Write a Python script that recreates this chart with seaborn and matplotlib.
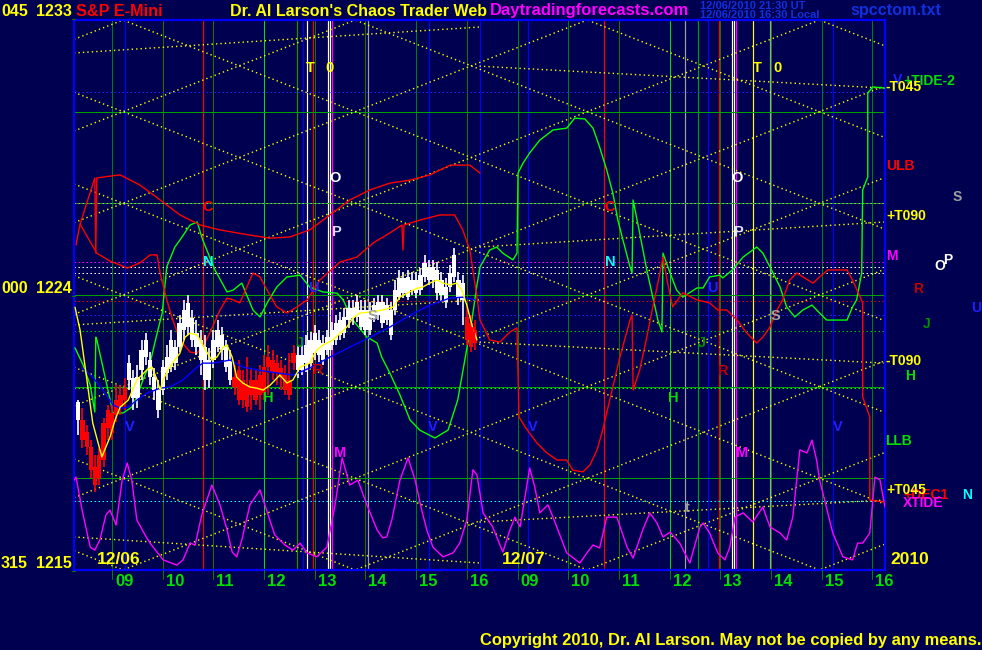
import numpy as np
import pandas as pd
import matplotlib
matplotlib.use("Agg")
import matplotlib.pyplot as plt
import seaborn as sns

sns.set_theme(style="dark")
FONT = ['Liberation Sans', 'DejaVu Sans']
plt.rcParams['font.family'] = FONT
plt.rcParams['font.weight'] = 'bold'

# ---------------- data ----------------
# x axis: session hours (0 = 08:15 of 12/06, 8 = 08:15 of 12/07)
hour_labels = ['09', '10', '11', '12', '13', '14', '15', '16']
day_labels = ['12/06', '12/07']
price_min, price_max = 1215, 1233
left_labels = [('045', '1233'), ('000', '1224'), ('315', '1215')]

# 5-minute candles of 12/06 (minutes after 08:15)
candle_minutes = list(range(5, 480, 5))
c_open = [1219.91, 1219.91, 1219.51, 1219.02, 1218.37, 1218.76, 1219.81, 1220.24, 1220.14, 1220.56,
          1220.72, 1220.95, 1221.22, 1220.62, 1220.62, 1221.54, 1221.97, 1221.31, 1220.89, 1220.24,
          1220.89, 1221.44, 1221.64, 1221.77, 1222.29, 1222.85, 1222.95, 1222.52, 1222.29, 1221.87,
          1221.22, 1221.22, 1221.87, 1222.29, 1222.19, 1221.64, 1221.22, 1221.31, 1221.54, 1221.22,
          1221.05, 1221.22, 1221.22, 1221.38, 1221.64, 1221.97, 1221.87, 1221.77, 1221.61, 1221.38,
          1221.22, 1222.10, 1221.54, 1221.54, 1221.77, 1221.77, 1222.10, 1222.03, 1221.87, 1222.20,
          1222.36, 1222.52, 1222.69, 1222.75, 1223.17, 1223.24, 1223.27, 1222.95, 1222.85, 1222.85,
          1223.24, 1223.34, 1223.08, 1223.17, 1222.69, 1223.50, 1223.93, 1224.06, 1223.93, 1224.16,
          1224.06, 1224.16, 1224.58, 1224.49, 1224.49, 1224.06, 1223.99, 1223.77, 1224.26, 1224.58,
          1223.93, 1223.83, 1223.27, 1223.08, 1222.85]
c_close = [1220.49, 1219.25, 1219.02, 1218.27, 1217.78, 1218.01, 1218.60, 1219.64, 1219.48, 1220.07,
           1220.33, 1220.56, 1221.77, 1221.28, 1221.31, 1222.19, 1222.52, 1221.87, 1221.31, 1220.89,
           1221.64, 1221.97, 1222.52, 1222.29, 1223.08, 1223.50, 1223.73, 1223.24, 1222.75, 1222.52,
           1222.29, 1221.87, 1222.52, 1222.85, 1222.68, 1222.29, 1221.87, 1220.99, 1220.56, 1220.56,
           1220.33, 1220.72, 1220.56, 1220.72, 1220.79, 1221.64, 1221.48, 1221.44, 1221.28, 1220.89,
           1220.72, 1221.77, 1222.03, 1222.03, 1222.36, 1222.52, 1222.75, 1222.52, 1222.42, 1222.62,
           1222.85, 1223.08, 1223.17, 1223.27, 1223.57, 1223.57, 1223.77, 1223.50, 1223.50, 1223.50,
           1223.67, 1223.77, 1223.77, 1223.67, 1223.50, 1224.16, 1224.55, 1224.55, 1224.58, 1224.49,
           1224.49, 1224.65, 1225.04, 1224.91, 1224.91, 1224.81, 1224.49, 1224.26, 1224.72, 1225.31,
           1224.49, 1224.39, 1222.52, 1222.29, 1222.42]
c_high = [1220.56, 1220.30, 1219.75, 1219.25, 1218.76, 1218.99, 1219.97, 1220.40, 1220.40, 1221.05,
          1221.05, 1221.28, 1222.03, 1221.54, 1221.70, 1222.52, 1222.75, 1222.13, 1221.61, 1221.22,
          1221.87, 1222.36, 1222.85, 1222.52, 1223.34, 1223.83, 1223.99, 1223.50, 1223.17, 1222.85,
          1222.68, 1222.26, 1222.85, 1223.17, 1222.95, 1222.52, 1222.19, 1221.70, 1221.87, 1221.54,
          1221.97, 1221.61, 1221.54, 1221.70, 1222.03, 1222.36, 1222.19, 1222.03, 1221.87, 1221.70,
          1222.10, 1222.36, 1222.36, 1222.36, 1222.69, 1222.78, 1223.01, 1222.85, 1222.69, 1222.85,
          1223.11, 1223.34, 1223.44, 1223.57, 1223.83, 1223.83, 1223.99, 1223.83, 1223.83, 1223.77,
          1223.90, 1223.99, 1223.99, 1223.90, 1223.77, 1224.49, 1224.81, 1224.75, 1224.81, 1224.75,
          1224.75, 1224.88, 1225.31, 1225.14, 1225.14, 1225.08, 1224.75, 1224.55, 1224.98, 1225.54,
          1224.75, 1224.65, 1223.67, 1223.34, 1223.17]
c_low = [1219.42, 1219.00, 1218.76, 1218.01, 1217.55, 1217.78, 1218.37, 1219.25, 1219.25, 1219.84,
         1220.07, 1220.24, 1220.89, 1220.24, 1220.30, 1221.22, 1221.70, 1221.05, 1220.56, 1219.97,
         1220.72, 1221.22, 1221.48, 1221.54, 1222.13, 1222.52, 1222.69, 1222.29, 1222.03, 1221.38,
         1220.89, 1220.95, 1221.61, 1222.13, 1221.87, 1221.48, 1221.05, 1220.72, 1220.40, 1220.30,
         1220.17, 1220.24, 1220.40, 1220.24, 1220.56, 1220.72, 1221.22, 1221.05, 1220.89, 1220.72,
         1220.56, 1221.54, 1221.28, 1221.38, 1221.48, 1221.61, 1221.87, 1221.80, 1221.71, 1222.03,
         1222.20, 1222.36, 1222.52, 1222.59, 1222.92, 1223.01, 1223.11, 1222.85, 1222.69, 1222.69,
         1223.11, 1223.17, 1222.92, 1223.01, 1222.52, 1223.34, 1223.83, 1223.90, 1223.83, 1223.99,
         1223.90, 1223.99, 1224.42, 1224.32, 1224.22, 1223.83, 1223.77, 1223.57, 1224.09, 1224.42,
         1223.67, 1223.01, 1222.36, 1222.13, 1222.20]

# moving averages of price (session hours, price)
fast_t = [0.02, 0.12, 0.22, 0.37, 0.55, 0.71, 0.81, 0.91, 1.07, 1.24, 1.44, 1.54, 1.64, 1.70, 1.76, 1.85,
          1.99, 2.09, 2.19, 2.29, 2.43, 2.52, 2.62, 2.72, 2.82, 2.94, 3.02, 3.12, 3.21, 3.33, 3.47, 3.61,
          3.73, 3.87, 4.06, 4.20, 4.32, 4.46, 4.65, 4.79, 4.91, 5.11, 5.25, 5.38, 5.50, 5.64, 5.84, 6.09,
          6.29, 6.43, 6.57, 6.77, 6.88, 7.02, 7.16, 7.28, 7.42, 7.55, 7.65, 7.75, 7.85, 7.95]
fast_p = [1223.60, 1222.85, 1221.64, 1219.81, 1218.70, 1219.35, 1219.91, 1220.33, 1220.56, 1221.22,
          1221.55, 1221.64, 1221.22, 1220.89, 1221.22, 1221.55, 1221.87, 1222.10, 1222.62, 1222.75,
          1222.69, 1222.43, 1222.13, 1221.87, 1221.97, 1222.29, 1222.36, 1221.97, 1221.31, 1221.12,
          1220.99, 1220.95, 1220.89, 1221.05, 1221.38, 1221.12, 1221.22, 1221.64, 1221.77, 1222.20,
          1222.36, 1222.53, 1222.75, 1222.95, 1223.24, 1223.41, 1223.44, 1223.51, 1223.60, 1223.93,
          1224.06, 1224.22, 1224.26, 1224.39, 1224.49, 1224.39, 1224.33, 1224.39, 1224.16, 1223.67,
          1223.02, 1222.53]
slow_t = [0.16, 0.37, 0.57, 0.77, 0.91, 1.07, 1.24, 1.44, 1.70, 1.89, 2.15, 2.43, 2.54, 2.74, 3.08,
          3.33, 3.61, 3.87, 4.32, 4.65, 5.05, 5.44, 5.84, 6.23, 6.63, 7.02, 7.42, 7.67, 7.91]
slow_p = [1221.61, 1221.31, 1220.89, 1220.40, 1220.30, 1220.33, 1220.56, 1220.79, 1220.95, 1220.99,
          1221.22, 1221.64, 1221.77, 1221.77, 1221.87, 1221.64, 1221.55, 1221.48, 1221.38, 1221.61,
          1221.97, 1222.29, 1222.62, 1222.95, 1223.34, 1223.67, 1223.90, 1223.93, 1223.84]

# forecast curves (session hours, price)
green_t = [0.02, 0.18, 0.32, 0.41, 0.43, 0.45, 0.57, 0.67, 0.77, 0.97, 1.14, 1.24, 1.36, 1.50, 1.64,
           1.74, 1.83, 1.99, 2.09, 2.29, 2.43, 2.54, 2.78, 3.02, 3.14, 3.31, 3.53, 3.67, 3.81, 4.00,
           4.20, 4.46, 4.65, 4.91, 5.19, 5.31, 5.50, 5.78, 5.98, 6.07, 6.23, 6.43, 6.63, 6.82, 7.12,
           7.38, 7.57, 7.71, 7.85, 7.95,
           8.01, 8.20, 8.34, 8.46, 8.66, 8.74, 8.76, 8.86, 8.99, 9.19, 9.45, 9.72, 9.88, 10.08, 10.24,
           10.37, 10.51, 10.63, 10.73, 10.83, 10.97, 11.01, 11.03, 11.16, 11.30, 11.40, 11.52, 11.60,
           11.62, 11.76, 11.89, 12.01, 12.29, 12.41, 12.54, 12.74, 12.80, 12.99, 13.20, 13.47, 13.59,
           13.73, 13.93, 14.06, 14.22, 14.38, 14.56, 14.71, 14.85, 15.25, 15.36, 15.44, 15.54, 15.56,
           15.66, 15.66, 15.76, 16.00]
green_p = [1222.27, 1221.71, 1221.05, 1220.17, 1222.62, 1222.53, 1221.64, 1220.89, 1220.14, 1220.14,
           1220.33, 1220.66, 1221.22, 1221.77, 1222.75, 1223.41, 1224.92, 1225.57, 1225.80, 1226.29,
           1226.39, 1225.80, 1224.82, 1224.10, 1224.16, 1224.39, 1223.51, 1223.28, 1223.74, 1224.26,
           1224.59, 1224.65, 1224.26, 1224.10, 1224.06, 1223.84, 1223.18, 1222.62, 1222.43, 1221.97,
           1221.45, 1220.73, 1219.91, 1219.58, 1219.32, 1219.58, 1220.56, 1221.87, 1223.18, 1224.33,
           1224.92, 1225.47, 1225.57, 1225.37, 1225.15, 1225.37, 1227.99, 1228.32, 1228.65, 1229.07,
           1229.40, 1229.46, 1229.79, 1229.76, 1229.46, 1228.84, 1228.09, 1227.34, 1226.45, 1225.80,
           1224.92, 1224.72, 1227.11, 1226.03, 1224.82, 1224.07, 1223.18, 1222.79, 1225.37, 1224.72,
           1224.16, 1223.93, 1224.23, 1224.23, 1224.59, 1224.65, 1224.56, 1224.82, 1225.24, 1225.57,
           1225.37, 1224.92, 1224.26, 1223.61, 1223.28, 1223.51, 1223.67, 1223.41, 1223.18, 1223.18,
           1223.61, 1223.84, 1224.72, 1227.44, 1227.86, 1230.61, 1230.81, 1230.77]

red_upper_t = [0.04, 0.12, 0.41, 0.43, 0.45, 0.71, 0.91, 1.30, 1.70, 2.09, 2.49, 2.88, 3.47, 3.87,
               4.26, 4.65, 5.05, 5.44, 5.84, 6.23, 6.63, 7.02, 7.42, 7.81, 8.01]
red_upper_p = [1225.64, 1226.32, 1227.83, 1225.37, 1227.83, 1227.89, 1227.93, 1227.60, 1227.11,
               1226.62, 1226.29, 1226.13, 1225.96, 1225.86, 1225.90, 1226.13, 1226.62, 1227.11,
               1227.44, 1227.66, 1227.76, 1227.93, 1228.25, 1228.25, 1227.99]
red_t = [0.12, 0.45, 0.71, 0.91, 1.05, 1.30, 1.50, 1.64, 1.70, 1.83, 1.95, 2.09, 2.29, 2.43, 2.54,
         2.68, 2.88, 3.02, 3.14, 3.27, 3.41, 3.53, 3.67, 3.81, 4.00, 4.20, 4.40, 4.60, 4.85, 5.25,
         5.58, 5.90, 6.23, 6.47, 6.49, 6.51, 6.82, 7.22, 7.51, 7.67, 7.81, 7.95, 8.01,
         8.20, 8.40, 8.60, 8.74, 8.78, 8.90, 9.13, 9.33, 9.53, 9.72, 9.84, 10.04, 10.18, 10.32,
         10.43, 10.63, 10.77, 10.97, 11.01, 11.03, 11.16, 11.30, 11.42, 11.56, 11.62, 11.70, 11.81,
         12.01, 12.29, 12.54, 12.70, 12.88, 13.08, 13.27, 13.47, 13.59, 13.73, 13.87, 13.98, 14.12,
         14.26, 14.38, 14.58, 14.71, 14.87, 15.25, 15.36, 15.56, 15.56, 15.70, 15.70, 16.00]
red_p = [1226.32, 1225.37, 1225.11, 1224.98, 1224.88, 1225.05, 1225.31, 1225.31, 1224.72, 1223.84,
         1223.18, 1222.53, 1222.13, 1222.10, 1222.30, 1222.76, 1223.51, 1223.90, 1223.84, 1223.74,
         1224.26, 1224.72, 1224.59, 1224.16, 1223.61, 1223.41, 1223.61, 1223.84, 1224.49, 1225.08,
         1225.24, 1225.70, 1226.03, 1226.29, 1225.47, 1226.29, 1226.45, 1226.62, 1226.62, 1226.13,
         1225.47, 1223.93, 1223.18,
         1222.53, 1222.46, 1222.79, 1222.92, 1220.01, 1219.68, 1219.16, 1218.83, 1218.60, 1218.60,
         1218.27, 1218.21, 1218.44, 1218.93, 1219.58, 1220.99, 1221.97, 1223.18, 1223.35, 1220.89,
         1221.54, 1222.62, 1223.61, 1224.72, 1225.24, 1224.49, 1223.61, 1224.07, 1223.84, 1223.74,
         1223.51, 1223.51, 1223.18, 1222.76, 1222.43, 1222.62, 1222.95, 1223.51, 1223.84, 1224.49,
         1224.72, 1224.59, 1224.39, 1224.59, 1224.82, 1224.82, 1224.49, 1223.74, 1220.66, 1220.01,
         1217.29, 1217.22]

magenta_t = [0.00, 0.04, 0.16, 0.32, 0.41, 0.51, 0.63, 0.71, 0.83, 0.95, 1.05, 1.14, 1.24, 1.40, 1.50,
             1.76, 2.03, 2.15, 2.29, 2.39, 2.52, 2.72, 2.88, 3.02, 3.12, 3.21, 3.31, 3.47, 3.67, 3.83,
             3.96, 4.16, 4.32, 4.46, 4.60, 4.79, 4.99, 5.15, 5.29, 5.44, 5.60, 5.78, 5.98, 6.09, 6.17,
             6.27, 6.43, 6.59, 6.73, 6.86, 6.96, 7.08, 7.28, 7.48, 7.61, 7.75, 7.87, 7.95,
             8.07, 8.26, 8.46, 8.60, 8.70, 8.80, 8.93, 8.99, 9.09, 9.19, 9.35, 9.45, 9.72, 9.98, 10.12,
             10.24, 10.37, 10.51, 10.71, 10.91, 11.03, 11.22, 11.36, 11.50, 11.62, 11.76, 11.95, 12.15,
             12.35, 12.41, 12.54, 12.70, 12.84, 12.94, 13.04, 13.20, 13.39, 13.59, 13.73, 13.93, 14.06,
             14.18, 14.32, 14.46, 14.56, 14.65, 14.71, 14.97, 15.17, 15.36, 15.46, 15.56, 15.70, 15.80,
             15.90, 16.00]
magenta_p = [1217.94, 1218.04, 1216.96, 1215.75, 1215.65, 1215.98, 1216.80, 1216.96, 1216.47, 1217.94,
             1218.50, 1217.94, 1216.64, 1216.15, 1215.88, 1215.33, 1215.16, 1215.33, 1215.88, 1215.82,
             1216.80, 1217.78, 1217.13, 1216.31, 1215.59, 1215.43, 1215.98, 1217.13, 1217.62, 1216.80,
             1216.15, 1215.82, 1215.65, 1215.88, 1215.56, 1215.43, 1215.75, 1217.13, 1218.67, 1217.78,
             1217.94, 1217.13, 1216.31, 1216.05, 1216.08, 1216.64, 1217.94, 1218.67, 1217.94, 1216.96,
             1216.31, 1215.75, 1215.43, 1215.56, 1215.88, 1216.64, 1218.28, 1218.11,
             1216.87, 1216.41, 1215.59, 1216.31, 1216.73, 1216.41, 1217.72, 1218.34, 1217.72, 1216.87,
             1217.13, 1216.73, 1215.56, 1215.23, 1215.56, 1215.82, 1215.72, 1216.73, 1216.73, 1215.75,
             1215.39, 1216.31, 1216.87, 1216.54, 1216.08, 1216.24, 1215.88, 1215.23, 1216.41, 1216.54,
             1216.21, 1215.56, 1215.33, 1215.75, 1216.73, 1216.87, 1216.57, 1217.06, 1216.41, 1216.21,
             1215.98, 1216.73, 1218.93, 1218.83, 1219.25, 1218.60, 1217.95, 1216.21, 1215.43, 1215.33,
             1215.88, 1215.88, 1216.21, 1218.04, 1217.95, 1217.06]

# diagonal time-price lattice (read from its crossings)
lattice_time, lattice_price, lattice_step, lattice_slope = 0.966, 1224.0, 3.0, 0.655

# shallow time lines: (start hour, start price, end hour, end price)
shallow_lines = [(0.0, 1231.92, 8.0, 1232.77), (0.0, 1223.02, 8.0, 1223.84),
                 (0.0, 1216.08, 8.0, 1215.23),
                 (8.0, 1231.49, 16.0, 1230.77), (8.0, 1225.57, 16.0, 1226.39),
                 (8.0, 1222.46, 16.0, 1221.77), (8.0, 1216.57, 16.0, 1217.29)]

# horizontal levels
solid_levels = [1230.0, 1227.0, 1224.0, 1221.0, 1218.0]
dotted_levels = [(1230.64, '#2020ff'), (1227.01, '#b0b0b0'), (1225.08, '#ff00ff'),
                 (1224.92, '#ffffff'), (1224.72, '#ffffff'), (1223.80, '#e00000'),
                 (1223.35, '#2020ff'), (1222.82, '#00c000'), (1220.96, '#00ff00'),
                 (1217.26, '#00ffff')]

# vertical event lines (session hours, colour)
vlines = [(1.01, '#0000ff'), (2.54, '#ff0000'), (4.40, '#00a000'), (4.52, '#0000ff'),
          (4.60, '#ffffff'), (4.71, '#ff0000'), (5.01, '#ffffff'), (5.05, '#ffffff'),
          (5.09, '#ff00ff'), (5.80, '#a0a0a0'), (7.00, '#0000ff'), (8.01, '#0000ff'),
          (8.95, '#0000ff'), (10.45, '#ff0000'), (12.05, '#a0a0a0'), (12.31, '#00a000'),
          (12.50, '#0000ff'), (12.72, '#ff0000'), (12.98, '#ffffff'), (13.02, '#ffffff'),
          (13.06, '#ff00ff'), (13.39, '#ffff00'), (13.73, '#a0a0a0'), (14.97, '#0000ff')]

# ---------------- drawing ----------------
BG = '#000050'
W, H = 982, 650
fig = plt.figure(figsize=(W / 100, H / 100), dpi=100, facecolor=BG)
ax = fig.add_axes([74 / W, 1 - 570 / H, 811 / W, 550 / H])
ax.set_facecolor(BG)
PX = 0.72  # one pixel in points

for d in range(2):
    for i, lab in enumerate(hour_labels):
        x = d * 8 + 0.75 + i
        col = '#00e000' if lab == '12' else '#008000'
        ax.axvline(x, color=col, lw=PX, zorder=1)

for x, c in vlines:
    ax.axvline(x, color=c, lw=PX * 1.2, zorder=1)

for lv in solid_levels:
    ax.axhline(lv, color='#00a000', lw=PX, zorder=1)
for lv, c in dotted_levels:
    ax.axhline(lv, color=c, lw=PX, ls=(0, (1.5, 2.5)), zorder=1)

tt = np.array([0.0, 16.0])
for k in range(-12, 13):
    base = lattice_price + k * lattice_step
    for sgn in (1, -1):
        ax.plot(tt, base + sgn * lattice_slope * (tt - lattice_time), color='#ffff00',
                lw=1.0, ls=(0, (1, 2.2)), zorder=2)
for t0, p0, t1, p1 in shallow_lines:
    ax.plot([t0, t1], [p0, p1], color='#ffff00', lw=1.0, ls=(0, (1, 2.2)), zorder=2)


def curve(t, p, color, z=3):
    df = pd.DataFrame({'t': t, 'p': p})
    sns.lineplot(data=df, x='t', y='p', ax=ax, color=color, lw=1.0, sort=False,
                 estimator=None, zorder=z)


curve(magenta_t, magenta_p, '#ff00ff')
curve(green_t, green_p, '#00ff00')
curve(red_upper_t, red_upper_p, '#ff0000')
curve(red_t, red_p, '#ff0000')

ct = np.array(candle_minutes) / 60.0
o = np.array(c_open); c = np.array(c_close); hi = np.array(c_high); lo = np.array(c_low)
cols = np.where(c >= o, '#ffffff', '#ff0000')
ax.vlines(ct, lo, hi, colors=cols, lw=1.2, zorder=4)
ax.bar(ct, np.abs(c - o), bottom=np.minimum(o, c), width=0.085, color=cols, zorder=4, linewidth=0)

curve(slow_t, slow_p, '#0000ff', z=5)
curve(fast_t, fast_p, '#ffff00', z=5)

ax.set_xlim(0, 16)
ax.set_ylim(price_min, price_max)
ax.set_xticks([])
ax.set_yticks([])
ax.set_xlabel('')
ax.set_ylabel('')
ax.grid(False)
for s in ax.spines.values():
    s.set_color('#0000ff')
    s.set_linewidth(1.6)


def ftxt(x, y, s, color, size=12, ha='left', va='center', z=10):
    fig.text(x / W, 1 - y / H, s, color=color, fontsize=size, ha=ha, va=va,
             fontweight='bold', zorder=z)


YEL = '#ffff00'
for (a, b), y in zip(left_labels, (11, 288, 563)):
    ftxt(1, y, a, YEL, 11.5)
    ftxt(72, y, b, YEL, 11.5, ha='right')
    fig.add_artist(plt.Line2D([72 / W, 75 / W], [1 - (y + 8) / H] * 2, color='#008000', lw=PX))

ftxt(76, 11, 'S&P E-Mini', '#ff0000', 11.7)
ftxt(230, 11, "Dr. Al Larson's Chaos Trader Web", YEL, 11.5)
ftxt(490, 11, 'Daytradingforecasts.com', '#ff00ff', 12)
ftxt(700, 6, '12/06/2010 21:30 UT', '#1030e0', 8)
ftxt(700, 15, '12/06/2010 16:30 Local', '#1030e0', 8)
ftxt(850, 11, 'spcctom.txt', '#1030e0', 11.6)

for d in range(2):
    for i, lab in enumerate(hour_labels):
        px = 74 + (d * 8 + 0.75 + i) * 811 / 16
        fig.add_artist(plt.Line2D([px / W, px / W], [1 - 570 / H, 1 - 579 / H],
                                  color='#008000', lw=PX))
        ftxt(px + 3, 581, lab, '#00e000', 12)
ftxt(97, 559, day_labels[0], YEL, 12.5)
ftxt(502, 559, day_labels[1], YEL, 12.5)
ftxt(890, 560, '2010', YEL, 12.5)
ftxt(480, 640, 'Copyright 2010, Dr. Al Larson. May not be copied by any means.', YEL, 11.9)

right = [(893, 80, 'V', '#2020ff'), (903, 81, '+TIDE-2', '#00e000'), (886, 87, '-T045', YEL),
         (886, 166, 'ULB', '#ff0000'), (953, 197, 'S', '#a0a0a0'), (886, 216, '+T090', YEL),
         (886, 256, 'M', '#ff00ff'), (934, 266, 'O', '#ffffff'), (943, 260, 'P', '#ffffff'),
         (913, 289, 'R', '#c00000'), (923, 324, 'J', '#009000'), (971, 308, 'U', '#2020ff'),
         (885, 361, '-T090', YEL), (905, 376, 'H', '#00e000'), (885, 441, 'LLB', '#00e000'),
         (903, 495, '+DEC1', '#ff0000'), (886, 490, '+T045', YEL), (903, 503, 'XTIDE', '#ff00ff'),
         (962, 495, 'N', '#00ffff')]
for x, y, s, col in right:
    ftxt(x, y, s, col, 10)

inplot = [(310, 68, 'T', YEL), (330, 68, '0', YEL), (757, 68, 'T', YEL), (777, 68, '0', YEL),
          (335, 178, 'O', '#ffffff'), (737, 178, 'O', '#ffffff'),
          (337, 232, 'P', '#e0e0ff'), (739, 232, 'P', '#e0e0ff'),
          (208, 207, 'C', '#ff0000'), (610, 207, 'C', '#ff0000'),
          (208, 262, 'N', '#00ffff'), (610, 262, 'N', '#00ffff'),
          (313, 288, 'U', '#2020ff'), (712, 288, 'U', '#2020ff'),
          (300, 343, 'J', '#009000'), (702, 343, 'J', '#009000'),
          (268, 398, 'H', '#00e000'), (673, 398, 'H', '#00e000'),
          (318, 370, 'R', '#c00000'), (723, 371, 'R', '#c00000'),
          (372, 316, 'S', '#a0a0a0'), (775, 316, 'S', '#a0a0a0'),
          (130, 427, 'V', '#2020ff'), (433, 427, 'V', '#2020ff'),
          (533, 427, 'V', '#2020ff'), (838, 427, 'V', '#2020ff'),
          (340, 453, 'M', '#ff00ff'), (742, 453, 'M', '#ff00ff'),
          (470, 333, 'M', '#ff0000'), (687, 508, 't', '#a0a0a0')]
for x, y, s, col in inplot:
    ftxt(x, y, s, col, 10.5, ha='center')

fig.savefig('out.png', dpi=100, facecolor=BG)
